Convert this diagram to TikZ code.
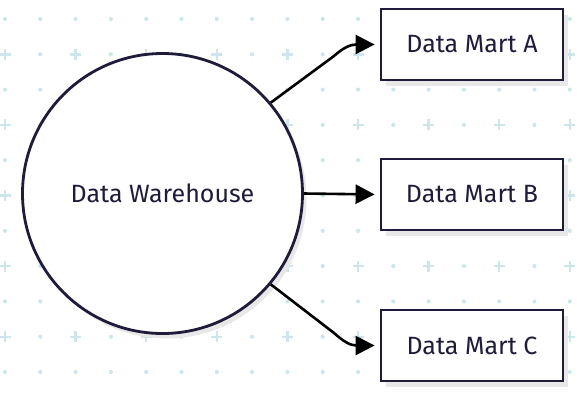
\documentclass[tikz,border=0pt]{standalone}
\usepackage{fontspec}
\setmainfont{Fira Sans}
\usetikzlibrary{arrows.meta,shadows}

\definecolor{ink}{HTML}{1E1C3A}
\definecolor{speck}{HTML}{CDE6EC}
\definecolor{shade}{HTML}{E8E8E8}

\tikzset{
  store/.style={circle,draw=ink,line width=2.8pt,fill=white,minimum size=280pt,inner sep=0pt,
    text=ink,font=\fontsize{25}{30}\selectfont,
    drop shadow={shadow xshift=4pt,shadow yshift=-5pt,fill=shade,opacity=1}},
  mart/.style={draw=ink,line width=2.8pt,fill=white,minimum width=182pt,minimum height=71pt,inner sep=0pt,
    text=ink,font=\fontsize{25}{30}\selectfont,
    drop shadow={shadow xshift=5pt,shadow yshift=-6pt,fill=shade,opacity=1}},
  feed/.style={line width=2.6pt,-{Triangle[length=19pt,width=19pt]},shorten >=5pt}
}

\begin{document}
\begin{tikzpicture}[x=1pt,y=-1pt]
  \useasboundingbox (0,0) rectangle (581,400);

  % background specks
  \foreach \k in {0,2,...,10}
    \foreach \j in {0,...,16}
      \fill[speck] ({5+35.3*\j},{19+35.3*\k}) circle (2.1pt);
  \foreach \k in {1,3,...,9} {
    \foreach \j in {1,3,...,15}
      \fill[speck] ({5+35.3*\j},{19+35.3*\k}) circle (2.1pt);
    \foreach \j in {0,2,...,16}
      \draw[speck,line width=2.4pt,shift={({5+35.3*\j},{19+35.3*\k})}] (-5.5,0) -- (5.5,0) (0,-5.5) -- (0,5.5);
  }

  \node[store] (dw) at (162.5,193.5) {Data Warehouse};
  \node[mart] (ma) at (472,44.5) {Data Mart A};
  \node[mart] (mb) at (472,194.5) {Data Mart B};
  \node[mart] (mc) at (472,345.5) {Data Mart C};

  \draw[feed] (dw.40) -- (334,56) .. controls (343,48) and (350,44.5) .. (ma.west);
  \draw[feed] (dw.east) -- (mb.west);
  \draw[feed] (dw.-40) -- (334,333) .. controls (343,341) and (350,345.5) .. (mc.west);

\end{tikzpicture}
\end{document}
